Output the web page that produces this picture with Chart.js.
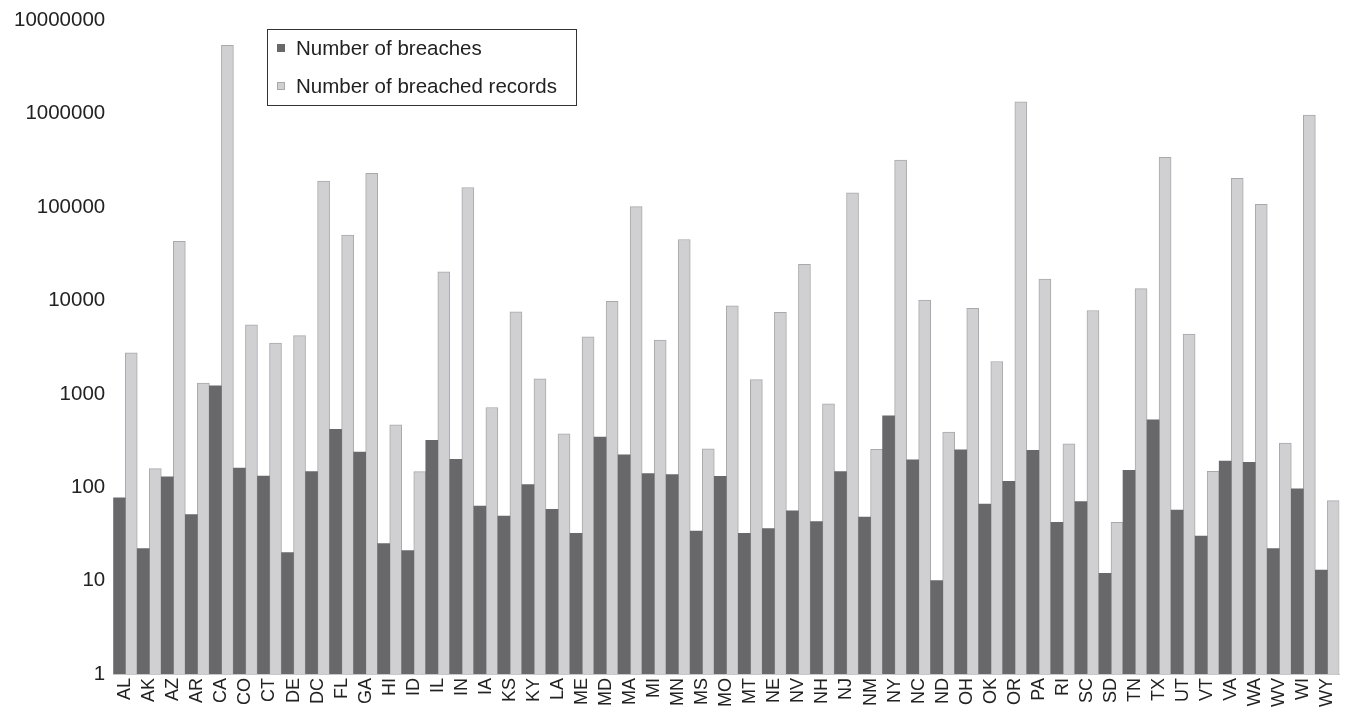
<!DOCTYPE html>
<html lang="en">
<head>
  <meta charset="UTF-8">
  <title>Breaches by state</title>
  <style>
    html, body { margin: 0; padding: 0; background: #fff; }
    .chart-container { width: 1353px; height: 714px; }
  </style>
</head>
<body>
  <div class="chart-container">
    <canvas id="myChart"></canvas>
  </div>

  <script src="https://cdn.jsdelivr.net/npm/chart.js"></script>
  <script>
    const states = ['AL','AK','AZ','AR','CA','CO','CT','DE','DC','FL','GA','HI','ID','IL','IN','IA','KS','KY',
      'LA','ME','MD','MA','MI','MN','MS','MO','MT','NE','NV','NH','NJ','NM','NY','NC','ND','OH','OK',
      'OR','PA','RI','SC','SD','TN','TX','UT','VT','VA','WA','WV','WI','WY'];

    const breaches = [77, 22, 129, 51, 1220, 160, 132, 20, 147, 417, 238, 25, 21, 318, 199, 63, 49, 107,
      58, 32, 344, 222, 140, 137, 34, 131, 32, 36, 56, 43, 147, 48, 583, 196, 10, 251, 66,
      116, 248, 42, 70, 12, 152, 527, 57, 30, 190, 185, 22, 96, 13];

    const records = [2750, 158, 43000, 1300, 5400000, 5500, 3500, 4200, 190000, 50000, 230000, 466, 147, 20300, 162000, 714, 7550, 1450,
      372, 4070, 9800, 101000, 3760, 45000, 257, 8740, 1420, 7470, 24300, 780, 142000, 254, 318000, 10100, 389, 8260, 2220,
      1340000, 16900, 291, 7810, 42, 13400, 340000, 4360, 148, 203000, 107000, 297, 967000, 72];

    const yTicks = [1, 10, 100, 1000, 10000, 100000, 1000000, 10000000];

    const FONT = 'Liberation Sans, Arial, Helvetica, sans-serif';

    // Legend drawn as a framed box inside the plot, like the original figure.
    const boxLegend = {
      id: 'boxLegend',
      afterDraw(chart) {
        const ctx = chart.ctx;
        const x = 267, y = 29, w = 309, h = 76;
        ctx.save();
        ctx.fillStyle = '#fff';
        ctx.fillRect(x, y, w, h);
        ctx.strokeStyle = '#333';
        ctx.lineWidth = 1;
        ctx.strokeRect(x + 0.5, y + 0.5, w, h);
        ctx.font = '20.5px ' + FONT;
        ctx.textBaseline = 'middle';
        chart.data.datasets.forEach((ds, i) => {
          const cy = y + 19 + i * 38;
          ctx.fillStyle = ds.backgroundColor;
          ctx.fillRect(x + 10, cy - 4, 8, 8);
          if (ds.borderWidth) {
            ctx.strokeStyle = ds.borderColor;
            ctx.strokeRect(x + 10.5, cy - 3.5, 7, 7);
          }
          ctx.fillStyle = '#222';
          ctx.fillText(ds.label, x + 29, cy + 1);
        });
        ctx.restore();
      }
    };

    const config = {
      type: 'bar',
      data: {
        labels: states,
        datasets: [
          {
            label: 'Number of breaches',
            data: breaches,
            backgroundColor: '#68686b',
            borderWidth: 0
          },
          {
            label: 'Number of breached records',
            data: records,
            backgroundColor: '#d0d0d3',
            borderColor: '#a9a9ac',
            borderWidth: 1
          }
        ]
      },
      options: {
        responsive: true,
        maintainAspectRatio: false,
        animation: false,
        layout: { padding: { top: 9, left: 6, right: 2, bottom: 3 } },
        datasets: {
          bar: { categoryPercentage: 1.0, barPercentage: 1.0 }
        },
        plugins: {
          legend: { display: false },
          tooltip: { enabled: false }
        },
        scales: {
          x: {
            grid: { display: false, drawTicks: false },
            border: { display: true, color: '#c8c8c8' },
            ticks: {
              autoSkip: false,
              minRotation: 90,
              maxRotation: 90,
              padding: 4,
              color: '#222',
              font: { family: FONT, size: 18 }
            }
          },
          y: {
            type: 'logarithmic',
            min: 1,
            max: 10000000,
            grid: { display: false, drawTicks: false },
            border: { display: false },
            afterBuildTicks: axis => { axis.ticks = yTicks.map(v => ({ value: v })); },
            ticks: {
              padding: 8,
              color: '#222',
              font: { family: FONT, size: 20.5 },
              callback: value => String(value)
            }
          }
        }
      },
      plugins: [boxLegend]
    };

    const chart = new Chart(document.querySelector('#myChart'), config);
    window.chart = chart;
  </script>
</body>
</html>
